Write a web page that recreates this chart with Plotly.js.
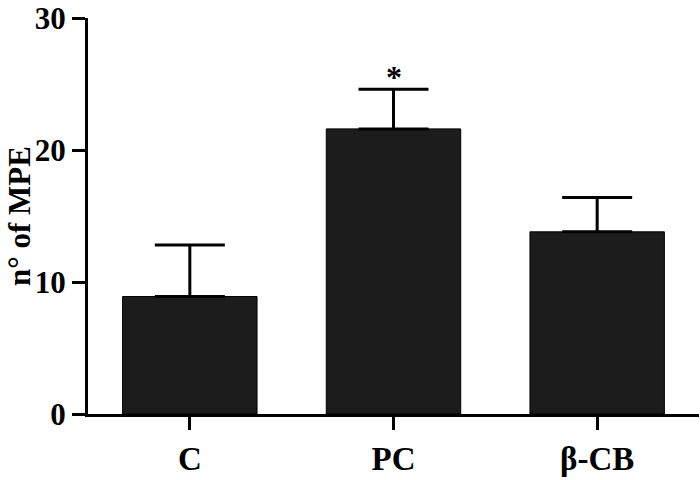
<!DOCTYPE html>
<html>
<head>
<meta charset="utf-8">
<script src="https://cdn.plot.ly/plotly-3.0.1.min.js"></script>
<style>html,body{margin:0;padding:0;background:#fff}#chart{width:700px;height:480px}</style>
</head>
<body>
<div id="chart"></div>
<script>
const categories = ['C', 'PC', 'β-CB'];
const meanMPE = [8.9, 21.6, 13.8];
const errMPE = [3.9, 3.0, 2.6];
const sigMarks = ['', '*', ''];
const yTickVals = [0, 10, 20, 30];
const yTickText = ['0', '10', '20', '30'];

const fontFam = '"Liberation Serif", "Times New Roman", serif';

const trace = {
  type: 'bar',
  x: categories,
  y: meanMPE,
  marker: {color: '#1c1c1c', line: {color: '#000', width: 1}},
  error_y: {
    type: 'data', symmetric: false,
    array: errMPE, arrayminus: errMPE.map(() => 0),
    width: 35, thickness: 3, color: '#000'
  },
  hoverinfo: 'x+y'
};

const annotations = [];
categories.forEach((c, i) => {
  if (sigMarks[i]) {
    annotations.push({
      x: c, y: meanMPE[i] + errMPE[i], xref: 'x', yref: 'y',
      text: sigMarks[i], showarrow: false, yanchor: 'bottom',
      yshift: -8,
      font: {family: fontFam, size: 32, color: '#000', weight: 700}
    });
  }
});
annotations.push({
  x: 0, xref: 'paper', xshift: -69, xanchor: 'center',
  y: 0.5, yref: 'paper', yanchor: 'middle',
  text: 'n° of MPE', textangle: -90, showarrow: false,
  font: {family: fontFam, size: 31, color: '#000', weight: 700}
});

const layout = {
  width: 700, height: 480,
  margin: {l: 88, r: 1, t: 18, b: 66, pad: 0},
  paper_bgcolor: '#fff', plot_bgcolor: '#fff',
  showlegend: false,
  bargap: 0.34,
  xaxis: {
    range: [-0.5, 2.5], showline: true, linecolor: '#000', linewidth: 3,
    ticks: 'outside', ticklen: 13, tickwidth: 3, tickcolor: '#000',
    showgrid: false, zeroline: false,
    tickfont: {family: fontFam, size: 33, color: '#000', weight: 700}
  },
  yaxis: {
    range: [0, 30], tickvals: yTickVals, ticktext: yTickText,
    showline: true, linecolor: '#000', linewidth: 3,
    ticks: 'outside', ticklen: 13, tickwidth: 3, tickcolor: '#000',
    showgrid: false, zeroline: false, ticklabeloverflow: 'allow',
    tickfont: {family: fontFam, size: 31, color: '#000', weight: 700}
  },
  annotations: annotations
};

Plotly.newPlot('chart', [trace], layout, {staticPlot: true, displayModeBar: false});
</script>
</body>
</html>
